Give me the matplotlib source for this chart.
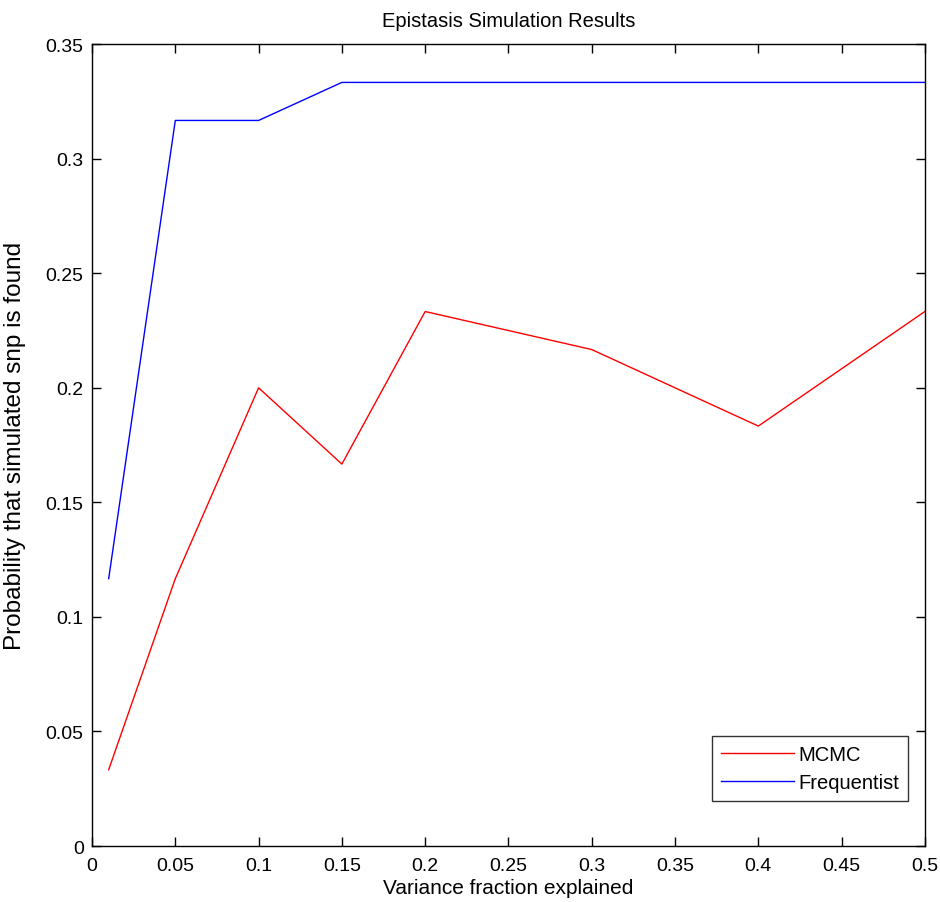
import matplotlib
matplotlib.use('Agg')
import matplotlib.pyplot as plt

plt.rcParams['font.family'] = ['Liberation Sans', 'DejaVu Sans']

# fraction of variance explained by simulated snp
variance = [0.01, 0.05, 0.1, 0.15, 0.2, 0.3, 0.4, 0.5]
mcmc = [0.0333, 0.1167, 0.2, 0.1667, 0.2333, 0.2167, 0.1833, 0.2333]
frequentist = [0.1167, 0.3167, 0.3167, 0.3333, 0.3333, 0.3333, 0.3333, 0.3333]

xticks = [0, 0.05, 0.1, 0.15, 0.2, 0.25, 0.3, 0.35, 0.4, 0.45, 0.5]
yticks = [0, 0.05, 0.1, 0.15, 0.2, 0.25, 0.3, 0.35]

fig = plt.figure(figsize=(9.4, 9.03), dpi=100)
ax = fig.add_axes([0.0979, 0.062, 0.886, 0.888])

ax.plot(variance, mcmc, color='#ff0000', lw=1, label='MCMC')
ax.plot(variance, frequentist, color='#0000ff', lw=1, label='Frequentist')

ax.set_xlim(0, 0.5)
ax.set_ylim(0, 0.35)
ax.set_xticks(xticks)
ax.set_xticklabels([('%g' % t) for t in xticks])
ax.set_yticks(yticks)
ax.set_yticklabels([('%g' % t) for t in yticks])
ax.tick_params(direction='in', top=True, right=True, length=6.5, width=1, labelsize=14)
ax.tick_params(axis='x', pad=8)
ax.tick_params(axis='y', pad=6)
for s in ax.spines.values():
    s.set_linewidth(1)

ax.set_title('Epistasis Simulation Results', fontsize=14.5, pad=13)
ax.set_xlabel('Variance fraction explained', fontsize=15, labelpad=3)
ax.set_ylabel('Probability that simulated snp is found', fontsize=17.5)
ax.yaxis.set_label_coords(-0.079, 0.5)

leg = ax.legend(loc='lower right', bbox_to_anchor=(0.9796, 0.0561), borderaxespad=0,
                fontsize=14.5, fancybox=False, edgecolor='black', handlelength=3.6,
                borderpad=0.45, handletextpad=0.2, labelspacing=0.45)
leg.get_frame().set_linewidth(1)

fig.savefig('out.png', dpi=100)
